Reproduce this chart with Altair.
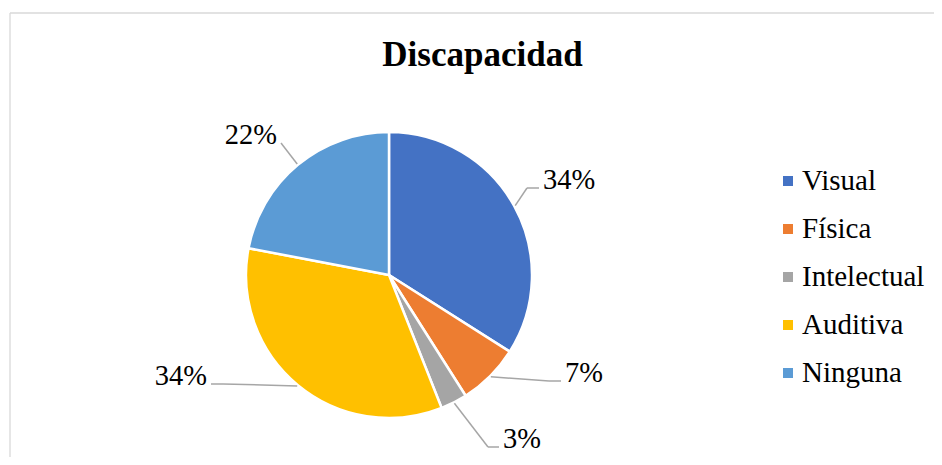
import altair as alt
import pandas as pd

# ---- data ----
title_text = "Discapacidad"
categories = ["Visual", "Física", "Intelectual", "Auditiva", "Ninguna"]
values = [34, 7, 3, 34, 22]
labels = ["34%", "7%", "3%", "34%", "22%"]
colors = ["#4472C4", "#ED7D31", "#A5A5A5", "#FFC000", "#5B9BD5"]

# ---- label layout (pixels relative to pie centre; inner text edge, text middle) ----
label_dx = [154, 176, 114, -182, -112]
label_dy = [-95, 98, 164, 101, -140]
elbow_len = [12, 12, 11, 12, 0]

W, H = 926, 449
CX, CY, R = 381, 267, 143
LEG_X, LEG_Y, LEG_STEP = 780, 173, 48
FONT = "Liberation Serif"

df = pd.DataFrame({
    "cat": categories,
    "value": values,
    "label": labels,
    "idx": list(range(len(categories))),
    "ldx": label_dx,
    "ldy": label_dy,
    "elbow": elbow_len,
})

base = alt.Chart(df)
xs = alt.Scale(domain=[0, W], nice=False, zero=False)
ys = alt.Scale(domain=[0, H], nice=False, zero=False, reverse=True)
cscale = alt.Scale(domain=categories, range=colors)

geo = base.transform_joinaggregate(total="sum(value)").transform_window(
    cum="sum(value)", sort=[alt.SortField("idx")], frame=[None, 0]
).transform_calculate(
    mid="(datum.cum - datum.value/2)/datum.total*2*PI"
).transform_calculate(
    ex=f"{CX} + {R + 1}*sin(datum.mid)",
    ey=f"{CY} - {R + 1}*cos(datum.mid)",
    side="datum.ldx > 0 ? 1 : -1",
    lx=f"{CX} + datum.ldx",
    ly=f"{CY} + datum.ldy",
).transform_calculate(
    ax="datum.lx - datum.side*4",
    ay="datum.ly + 8",
).transform_calculate(
    bx="datum.ax - datum.side*datum.elbow",
)

pie = base.mark_arc(radius=R, stroke="white", strokeWidth=2.5).encode(
    theta=alt.Theta("value:Q", stack=True),
    order=alt.Order("idx:Q"),
    color=alt.Color("cat:N", scale=cscale, legend=None),
    x=alt.value(CX),
    y=alt.value(CY),
)

line_col = "#A6A6A6"
seg1 = geo.mark_rule(color=line_col, strokeWidth=1.5).encode(
    x=alt.X("ex:Q", scale=xs, axis=None),
    y=alt.Y("ey:Q", scale=ys, axis=None),
    x2="bx:Q",
    y2="ay:Q",
)
seg2 = geo.mark_rule(color=line_col, strokeWidth=1.5).encode(
    x=alt.X("bx:Q", scale=xs, axis=None),
    y=alt.Y("ay:Q", scale=ys, axis=None),
    x2="ax:Q",
    y2="ay:Q",
)

txt_r = geo.transform_filter("datum.side > 0").mark_text(
    align="left", baseline="middle", font=FONT, fontSize=28.5, color="#000000"
).encode(
    x=alt.X("lx:Q", scale=xs, axis=None),
    y=alt.Y("ly:Q", scale=ys, axis=None),
    text="label:N",
)
txt_l = geo.transform_filter("datum.side < 0").mark_text(
    align="right", baseline="middle", font=FONT, fontSize=28.5, color="#000000"
).encode(
    x=alt.X("lx:Q", scale=xs, axis=None),
    y=alt.Y("ly:Q", scale=ys, axis=None),
    text="label:N",
)

# ---- legend built from the same categories ----
leg = base.transform_calculate(
    ly=f"{LEG_Y} + {LEG_STEP}*datum.idx",
    sx=f"{LEG_X}",
    tx=f"{LEG_X + 14}",
)
leg_sym = leg.mark_square(size=100, opacity=1, strokeWidth=0).encode(
    x=alt.X("sx:Q", scale=xs, axis=None),
    y=alt.Y("ly:Q", scale=ys, axis=None),
    color=alt.Color("cat:N", scale=cscale, legend=None),
)
leg_txt = leg.mark_text(
    align="left", baseline="middle", font=FONT, fontSize=29, color="#000000"
).encode(
    x=alt.X("tx:Q", scale=xs, axis=None),
    y=alt.Y("ly:Q", scale=ys, axis=None),
    text="cat:N",
)

one = alt.Chart(pd.DataFrame({"t": [title_text]}))
title = one.mark_text(
    align="center", baseline="alphabetic", font=FONT, fontSize=35,
    fontWeight="bold", color="#000000"
).encode(x=alt.value(474.5), y=alt.value(58), text="t:N")

border_col = "#D9D9D9"
border_top = one.mark_rule(color=border_col, strokeWidth=1.3).encode(
    x=alt.value(2), x2=alt.value(W), y=alt.value(5)
)
border_left = one.mark_rule(color=border_col, strokeWidth=1.3).encode(
    x=alt.value(2), y=alt.value(5), y2=alt.value(H)
)

chart = alt.layer(
    border_top, border_left, pie, seg1, seg2, txt_r, txt_l,
    leg_sym, leg_txt, title
).properties(
    width=W, height=H, autosize=alt.AutoSizeParams(type="none"), padding=0
).configure_view(stroke=None)

chart.save("out.html", embed_options={"renderer": "svg", "actions": False})
